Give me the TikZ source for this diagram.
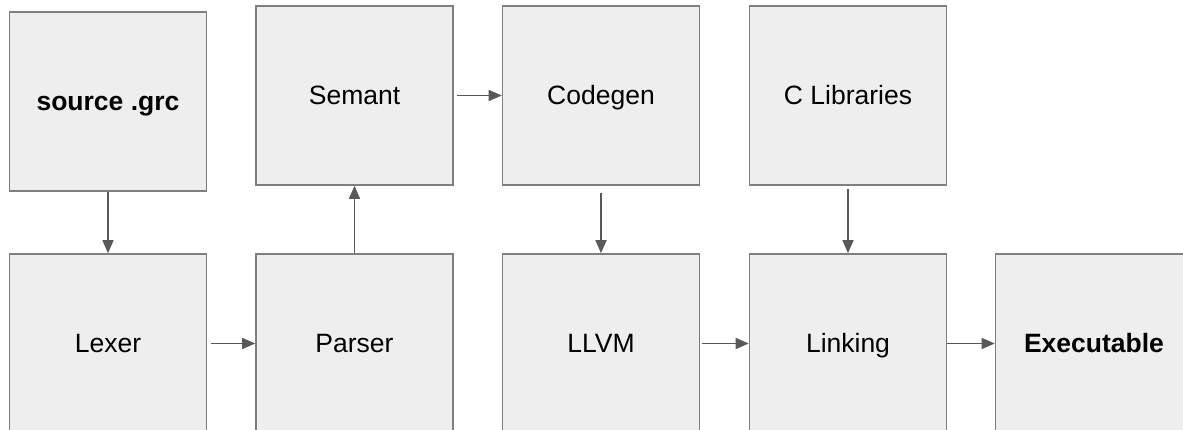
\documentclass[tikz,border=0pt]{standalone}
\usepackage{fontspec}
\setmainfont{Liberation Sans}
\usetikzlibrary{arrows.meta}
\definecolor{boxfill}{HTML}{EEEEEE}
\definecolor{boxline}{HTML}{7F7F7F}
\definecolor{arrowc}{HTML}{595959}
\begin{document}
\begin{tikzpicture}[x=1pt,y=-1pt,
  box/.style={draw=boxline, fill=boxfill, line width=1.6pt, minimum width=197pt, minimum height=179pt, inner sep=0pt, text height=18.8pt, text depth=0pt, font=\fontsize{26.5}{30}\selectfont, text=black},
  conn/.style={draw=arrowc, line width=1.4pt, -{Triangle[length=13pt,width=11pt]}}]
\useasboundingbox (0,0) rectangle (1183,430);
\clip (0,0) rectangle (1183,430);
\fill[white] (0,0) rectangle (1183,430);
% top row
\node[box] (src) at (108,101.5) {\bfseries source .grc};
\node[box] (sem) at (354.5,95.5) {Semant};
\node[box] (cg) at (601,95.5) {Codegen};
\node[box] (clib) at (848,95.5) {C Libraries};
% bottom row
\node[box] (lex) at (108,343.5) {Lexer};
\node[box] (par) at (354.5,343.5) {Parser};
\node[box] (llvm) at (601,343.5) {LLVM};
\node[box] (lnk) at (848,343.5) {Linking};
\node[box] (exe) at (1094,343.5) {\bfseries Executable};
% connectors
\draw[conn] (src.south) -- (lex.north);
\draw[conn, shorten <=4pt] (lex.east) -- (par.west);
\draw[conn] (par.north) -- (sem.south);
\draw[conn, shorten <=3pt] (sem.east) -- (cg.west);
\draw[conn, shorten <=7pt] (cg.south) -- (llvm.north);
\draw[conn, shorten <=3pt] (clib.south) -- (lnk.north);
\draw[conn, shorten <=2pt] (llvm.east) -- (lnk.west);
\draw[conn] (lnk.east) -- (exe.west);
\end{tikzpicture}
\end{document}
